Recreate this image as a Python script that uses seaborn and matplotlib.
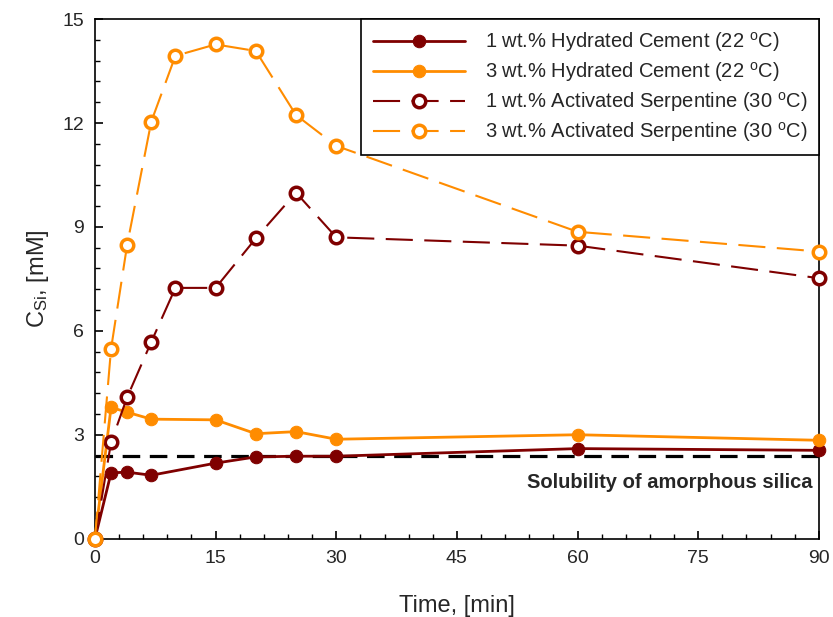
import numpy as np
import pandas as pd
import matplotlib
matplotlib.use('Agg')
import matplotlib.pyplot as plt
from matplotlib.ticker import MultipleLocator
import seaborn as sns

sns.set_style('ticks')
plt.rcParams['font.family'] = ['Liberation Sans', 'DejaVu Sans']
plt.rcParams['mathtext.fontset'] = 'custom'
plt.rcParams['mathtext.rm'] = 'Liberation Sans'
plt.rcParams['mathtext.it'] = 'Liberation Sans:italic'

# data (time in min, C_Si in mM)
t_cement = [0, 2, 4, 7, 15, 20, 25, 30, 60, 90]
cem_1 = [0, 1.90, 1.92, 1.83, 2.18, 2.36, 2.38, 2.38, 2.60, 2.55]
cem_3 = [0, 3.79, 3.65, 3.45, 3.43, 3.03, 3.09, 2.87, 3.00, 2.84]

t_serp = [0, 2, 4, 7, 10, 15, 20, 25, 30, 60, 90]
serp_1 = [0, 2.78, 4.08, 5.68, 7.24, 7.24, 8.67, 9.99, 8.70, 8.46, 7.52]
serp_3 = [0, 5.48, 8.48, 12.04, 13.94, 14.27, 14.08, 12.23, 11.34, 8.86, 8.29]

silica_solubility = 2.38

labels = ['1 wt.% Hydrated Cement (22 $^{\\mathrm{o}}$C)',
          '3 wt.% Hydrated Cement (22 $^{\\mathrm{o}}$C)',
          '1 wt.% Activated Serpentine (30 $^{\\mathrm{o}}$C)',
          '3 wt.% Activated Serpentine (30 $^{\\mathrm{o}}$C)']

dark = '#7f0000'
orange = '#ff8c00'

fig, ax = plt.subplots(figsize=(8.33, 6.17), dpi=100)
fig.subplots_adjust(left=0.114, right=0.983, bottom=0.127, top=0.969)

ax.axhline(silica_solubility, color='black', lw=2.3, ls=(0, (5.5, 3)), zorder=1)

sns.lineplot(x=t_cement, y=cem_1, ax=ax, color=dark, lw=2, marker='o',
             markersize=9, markeredgecolor=dark, label=labels[0], zorder=3,
             clip_on=False)
sns.lineplot(x=t_cement, y=cem_3, ax=ax, color=orange, lw=2, marker='o',
             markersize=9, markeredgecolor=orange, label=labels[1], zorder=3,
             clip_on=False)
sns.lineplot(x=t_serp, y=serp_1, ax=ax, color=dark, lw=1.5, ls=(0, (13, 5.5)),
             marker='o', markersize=9, markerfacecolor='white',
             markeredgecolor=dark, markeredgewidth=2.5, label=labels[2], zorder=4,
             clip_on=False)
sns.lineplot(x=t_serp, y=serp_3, ax=ax, color=orange, lw=1.5, ls=(0, (13, 5.5)),
             marker='o', markersize=9, markerfacecolor='white',
             markeredgecolor=orange, markeredgewidth=2.5, label=labels[3], zorder=4,
             clip_on=False)

ax.text(89.2, 1.9, 'Solubility of amorphous silica', ha='right', va='top',
        fontsize=14.5, fontweight='bold')

ax.set_xlim(0, 90)
ax.set_ylim(0, 15)
ax.xaxis.set_major_locator(MultipleLocator(15))
ax.xaxis.set_minor_locator(MultipleLocator(3))
ax.yaxis.set_major_locator(MultipleLocator(3))
ax.yaxis.set_minor_locator(MultipleLocator(0.6))
ax.tick_params(which='both', direction='in', top=False, right=False,
               labelsize=14, color='black')
ax.tick_params(which='major', length=6, width=1.2, pad=8)
ax.tick_params(which='minor', length=3.5, width=1)
for s in ax.spines.values():
    s.set_color('black')
    s.set_linewidth(1.2)

ax.set_xlabel('Time, [min]', fontsize=17, labelpad=20)
ax.set_ylabel('C$_{\\mathrm{Si}}$, [mM]', fontsize=17, labelpad=8)

leg = ax.legend(loc='upper right', fontsize=14.5, handlelength=4.6,
                numpoints=1, borderaxespad=0, frameon=True, fancybox=False,
                edgecolor='black', framealpha=1, borderpad=0.55,
                labelspacing=0.3, handletextpad=1.0)
leg.get_frame().set_linewidth(1.2)

plt.savefig('out.png', dpi=100)
